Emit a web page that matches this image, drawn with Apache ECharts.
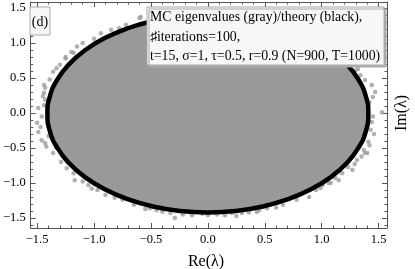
<!DOCTYPE html>
<html><head><meta charset="utf-8">
<script src="https://cdn.jsdelivr.net/npm/echarts@6/dist/echarts.min.js"></script>
<style>html,body{margin:0;padding:0;background:#fff}#c{width:415px;height:269px}</style>
</head><body><div id="c"></div>
<script>
// Theory curve (black) boundary points
const theoryRe = [1.410,1.389,1.325,1.221,1.080,0.906,0.705,0.482,0.245,0.000,-0.245,-0.482,-0.705,-0.906,-1.080,-1.221,-1.325,-1.389,-1.410,-1.389,-1.325,-1.221,-1.080,-0.906,-0.705,-0.482,-0.245,0.000,0.245,0.482,0.705,0.906,1.080,1.221,1.325,1.389];
const theoryIm = [-0.01,0.235,0.472,0.695,0.896,1.070,1.211,1.315,1.379,1.400,1.379,1.315,1.211,1.070,0.896,0.695,0.472,0.235,-0.01,-0.255,-0.492,-0.715,-0.916,-1.090,-1.231,-1.335,-1.399,-1.420,-1.399,-1.335,-1.231,-1.090,-0.916,-0.715,-0.492,-0.255];
// MC eigenvalues visible outside the bulk (gray points)
const mcRe = [-0.60,-0.59,-0.72,-0.85,-0.94,-1.10,-1.20,-1.18,-1.30,-1.36,-1.43,-1.44,-1.44,-1.43,-1.49,-1.44,-1.50,-1.49,-1.46,-1.43,-1.36,-1.29,-1.18,-1.17,-1.05,-0.90,-0.75,-0.51,-0.40,-0.29,-0.14,-0.11,0.00,0.15,0.21,0.30,0.43,0.45,0.66,0.89,0.99,1.01,1.12,1.15,1.23,1.27,1.31,1.38,1.40,1.37,1.41,1.43,1.44,1.53,1.45,1.44,1.34,1.30,-1.25,-1.02,-0.33,0.60,1.08,1.47,-1.47,1.20,
  -0.78,-1.00,-1.15,-1.25,-1.33,-1.39,-1.45,-1.46,-1.40,-1.33,-1.24,-1.10,-0.97,-0.82,-0.65,-0.55,-0.22,-0.05,0.08,0.36,0.52,0.78,0.95,1.06,1.18,1.29,1.35,1.42,1.46,1.45,1.42,1.38,1.32,-1.42,0.25,-0.45];
const mcIm = [1.357,1.37,1.26,1.19,1.14,1.00,0.87,0.86,0.69,0.59,0.36,0.40,0.29,0.19,0.07,0.11,-0.14,-0.27,-0.39,-0.43,-0.57,-0.70,-0.86,-0.96,-1.03,-1.17,-1.24,-1.36,-1.41,-1.50,-1.46,-1.41,-1.46,-1.46,-1.43,-1.43,-1.41,-1.39,-1.31,-1.20,-1.07,-1.03,-0.93,-0.96,-0.77,-0.81,-0.67,-0.57,-0.57,-0.53,-0.41,-0.24,-0.13,0.01,0.23,0.40,0.54,0.61,0.78,-1.08,-1.43,-1.35,-1.00,0.30,-0.20,0.80,
  1.21,1.06,0.95,0.80,0.64,0.48,0.24,-0.05,-0.33,-0.50,-0.79,-0.98,-1.10,-1.21,-1.31,-1.37,-1.45,-1.44,-1.45,-1.42,-1.36,-1.24,-1.10,-1.00,-0.86,-0.73,-0.62,-0.46,-0.30,-0.05,0.15,0.47,0.63,-0.48,-1.47,-1.39];
// Tick labels
const xTicks = [-1.5,-1.0,-0.5,0.0,0.5,1.0,1.5];
const yTicks = [-1.5,-1.0,-0.5,0.0,0.5,1.0,1.5];

const xMinor = [], yMinor = [];
for (let i = -16; i <= 16; i++) { const v = i/10; if (i % 5 !== 0) { if (v > -1.557 && v < 1.574) xMinor.push(v); if (v > -1.643 && v < 1.586) yMinor.push(v); } }

const theory = theoryRe.map((r,i)=>[r,theoryIm[i]]);
const mc = mcRe.map((r,i)=>[r,mcIm[i]]);
const FONT = '"Liberation Serif","DejaVu Serif",serif';
const fmt = v => v.toFixed(1).replace('-', '\u2212');
const frame = '#555';
const X = {min:-1.557, max:1.574}, Y = {min:-1.643, max:1.586};

function majorAx(pos, ticks, label) {
  return {type:'value', position:pos, ...(pos==='bottom'||pos==='top'?X:Y),
    axisLine:{show:true, onZero:false, lineStyle:{color:frame, width:1}},
    axisTick:{show:true, inside:true, length:5, customValues:ticks, lineStyle:{color:frame}},
    axisLabel:{show:label, customValues:ticks, formatter:fmt, fontFamily:FONT, fontSize:12.5, color:'#000', margin:5},
    splitLine:{show:false}};
}
function minorAx(pos, ticks) {
  return {type:'value', position:pos, ...(pos==='bottom'||pos==='top'?X:Y),
    axisLine:{show:false, onZero:false},
    axisTick:{show:true, inside:true, length:2.5, customValues:ticks, lineStyle:{color:frame}},
    axisLabel:{show:false}, splitLine:{show:false}};
}
function curve(fill, stroke, lw) {
  return (params, api) => params.dataIndex !== 0 ? null : ({type:'polygon',
    shape:{points:theory.map(p=>api.coord(p)), smooth:0.5},
    style:{fill:fill, stroke:stroke, lineWidth:lw}});
}

const chart = echarts.init(document.getElementById('c'), null, {renderer:'canvas'});
chart.setOption({
  animation:false,
  grid:{left:27, right:28, top:2, bottom:41, containLabel:false},
  xAxis:[majorAx('bottom',xTicks,true), majorAx('top',xTicks,false), minorAx('bottom',xMinor), minorAx('top',xMinor)],
  yAxis:[majorAx('left',yTicks,true), majorAx('right',yTicks,false), minorAx('left',yMinor), minorAx('right',yMinor)],
  series:[
    {type:'custom', xAxisIndex:0, yAxisIndex:0, z:1, data:theory, renderItem:curve('#999999','#999999',2)},
    {type:'scatter', xAxisIndex:0, yAxisIndex:0, z:2, data:mc, symbolSize:4.5, itemStyle:{color:'#9c9c9c'}},
    {type:'custom', xAxisIndex:0, yAxisIndex:0, z:3, data:theory, renderItem:curve('none','#000',4.5)}
  ],
  graphic:[
    {type:'rect', z:100, shape:{x:30, y:7, width:20, height:28}, style:{fill:'#f6f6f6', stroke:'#aaa', lineWidth:1}},
    {type:'text', z:101, x:40, y:22, style:{text:'(d)', font:'14px '+FONT, fill:'#000', align:'center', verticalAlign:'middle'}},
    {type:'rect', z:100, shape:{x:147, y:7, width:237, height:58}, style:{fill:'#f7f7f7', stroke:'#aaa', lineWidth:1, shadowColor:'#aaa', shadowOffsetX:2, shadowOffsetY:2, shadowBlur:0}},
    {type:'text', z:101, x:150, y:17, style:{text:'MC eigenvalues (gray)/theory (black),', font:'13.8px '+FONT, fill:'#000', verticalAlign:'middle'}},
    {type:'text', z:101, x:150, y:37, style:{text:'\u266Fiterations=100,', font:'13.8px '+FONT, fill:'#000', verticalAlign:'middle'}},
    {type:'text', z:101, x:150, y:56, style:{text:'t=15, \u03C3=1, \u03C4=0.5, r=0.9 (N=900, T=1000)', font:'13.8px '+FONT, fill:'#000', verticalAlign:'middle'}},
    {type:'text', z:101, x:206, y:262, style:{text:'Re(\u03BB)', font:'16px '+FONT, fill:'#000', align:'center', verticalAlign:'middle'}},
    {type:'text', z:101, x:402, y:113, rotation:Math.PI/2, style:{text:'Im(\u03BB)', font:'16px '+FONT, fill:'#000', align:'center', verticalAlign:'middle'}}
  ]
});
</script></body></html>
